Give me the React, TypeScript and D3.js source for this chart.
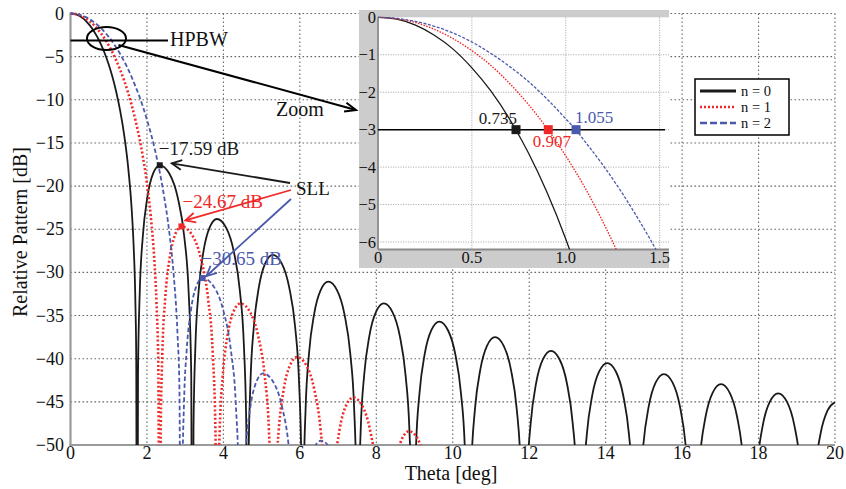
import React from "react";
import * as d3 from "d3";

type Pt = [number, number];

// n = 0 (theta [deg], relative pattern [dB])
const n0Pattern: Pt[] = [
  [0, 0], [0.1, -0.05], [0.2, -0.21], [0.3, -0.48], [0.4, -0.85], [0.5, -1.35], [0.6, -1.96], [0.7, -2.71], [0.735, -3.01], [0.8, -3.61], [0.9, -4.67], [1.0, -5.92], [1.1, -7.4], [1.2, -9.15], [1.3, -11.29], [1.4, -13.94], [1.5, -17.45], [1.6, -22.65], [1.65, -26.74], [1.7, -34.0], [1.72, -40.1], [1.742, -100],
  [1.766, -41.63], [1.813, -32.13], [1.89, -25.93], [2.009, -21.34], [2.157, -18.59], [2.335, -17.59], [2.592, -18.59], [2.806, -21.34], [2.978, -25.93], [3.089, -32.13], [3.158, -41.63], [3.192, -100],
  [3.218, -47.85], [3.269, -38.35], [3.352, -32.15], [3.479, -27.56], [3.639, -24.81], [3.83, -23.81], [4.07, -24.81], [4.271, -27.56], [4.431, -32.15], [4.535, -38.35], [4.599, -47.85], [4.631, -100],
  [4.657, -52.0], [4.71, -42.5], [4.796, -36.3], [4.928, -31.71], [5.093, -28.96], [5.291, -27.96], [5.525, -28.96], [5.72, -31.71], [5.876, -36.3], [5.977, -42.5], [6.04, -52.0], [6.071, -100],
  [6.098, -55.12], [6.152, -45.62], [6.239, -39.42], [6.374, -34.83], [6.542, -32.08], [6.744, -31.08], [6.974, -32.08], [7.166, -34.83], [7.319, -39.42], [7.419, -45.62], [7.48, -55.12], [7.511, -100],
  [7.538, -57.64], [7.593, -48.14], [7.682, -41.94], [7.819, -37.35], [7.99, -34.6], [8.195, -33.6], [8.423, -34.6], [8.614, -37.35], [8.766, -41.94], [8.865, -48.14], [8.926, -57.64], [8.956, -100],
  [8.984, -59.74], [9.039, -50.24], [9.129, -44.04], [9.267, -39.45], [9.44, -36.7], [9.648, -35.7], [9.875, -36.7], [10.065, -39.45], [10.216, -44.04], [10.315, -50.24], [10.376, -59.74], [10.406, -100],
  [10.434, -61.55], [10.49, -52.05], [10.581, -45.85], [10.721, -41.26], [10.896, -38.51], [11.106, -37.51], [11.333, -38.51], [11.522, -41.26], [11.674, -45.85], [11.772, -52.05], [11.833, -61.55], [11.863, -100],
  [11.891, -63.13], [11.948, -53.63], [12.04, -47.43], [12.181, -42.84], [12.357, -40.09], [12.569, -39.09], [12.796, -40.09], [12.986, -42.84], [13.137, -47.43], [13.236, -53.63], [13.297, -63.13], [13.327, -100],
  [13.356, -64.55], [13.413, -55.05], [13.506, -48.85], [13.649, -44.26], [13.828, -41.51], [14.042, -40.51], [14.27, -41.51], [14.46, -44.26], [14.612, -48.85], [14.711, -55.05], [14.772, -64.55], [14.802, -100],
  [14.831, -65.82], [14.889, -56.32], [14.983, -50.12], [15.127, -45.53], [15.307, -42.78], [15.524, -41.78], [15.752, -42.78], [15.943, -45.53], [16.095, -50.12], [16.194, -56.32], [16.255, -65.82], [16.285, -100],
  [16.314, -66.99], [16.373, -57.49], [16.468, -51.29], [16.615, -46.7], [16.798, -43.95], [17.018, -42.95], [17.246, -43.95], [17.437, -46.7], [17.589, -51.29], [17.688, -57.49], [17.749, -66.99], [17.779, -100],
  [17.808, -68.05], [17.867, -58.55], [17.963, -52.35], [18.109, -47.76], [18.293, -45.01], [18.513, -44.01], [18.745, -45.01], [18.938, -47.76], [19.093, -52.35], [19.193, -58.55], [19.255, -68.05], [19.286, -100],
  [19.316, -69.04], [19.375, -59.54], [19.471, -53.34], [19.619, -48.75], [19.805, -46.0], [20.0, -45.05],
];

// n = 1
const n1Pattern: Pt[] = [
  [0, 0], [0.1, -0.04], [0.2, -0.14], [0.3, -0.32], [0.4, -0.57], [0.5, -0.89], [0.6, -1.28], [0.7, -1.76], [0.8, -2.32], [0.907, -3.01], [1.0, -3.7], [1.1, -4.53], [1.2, -5.48], [1.3, -6.54], [1.4, -7.73], [1.5, -9.08], [1.6, -10.61], [1.7, -12.37], [1.8, -14.37], [1.9, -16.76], [2.0, -19.69], [2.1, -23.49], [2.2, -29.06], [2.25, -33.51], [2.3, -41.6], [2.336, -100],
  [2.359, -48.71], [2.404, -39.21], [2.478, -33.01], [2.591, -28.42], [2.733, -25.67], [2.9025, -24.67], [3.181, -25.67], [3.413, -28.42], [3.598, -33.01], [3.719, -39.21], [3.793, -48.71], [3.83, -100],
  [3.855, -57.64], [3.904, -48.14], [3.983, -41.94], [4.106, -37.35], [4.259, -34.6], [4.443, -33.6], [4.697, -34.6], [4.909, -37.35], [5.079, -41.94], [5.189, -48.14], [5.257, -57.64], [5.291, -100],
  [5.317, -63.84], [5.368, -54.34], [5.451, -48.14], [5.578, -43.55], [5.738, -40.8], [5.929, -39.8], [6.173, -40.8], [6.377, -43.55], [6.54, -48.14], [6.646, -54.34], [6.711, -63.84], [6.744, -100],
  [6.77, -68.54], [6.822, -59.04], [6.908, -52.84], [7.038, -48.25], [7.202, -45.5], [7.398, -44.5], [7.637, -45.5], [7.836, -48.25], [7.996, -52.84], [8.099, -59.04], [8.163, -68.54], [8.195, -100],
  [8.222, -72.44], [8.275, -62.94], [8.362, -56.74], [8.495, -52.15], [8.661, -49.4], [8.861, -48.4], [9.097, -49.4], [9.294, -52.15], [9.451, -56.74], [9.554, -62.94], [9.617, -72.44], [9.648, -100],
];

// n = 2
const n2Pattern: Pt[] = [
  [0, 0], [0.1, -0.03], [0.2, -0.11], [0.3, -0.24], [0.4, -0.42], [0.5, -0.66], [0.6, -0.96], [0.7, -1.31], [0.8, -1.71], [0.9, -2.18], [1.0, -2.71], [1.055, -3.01], [1.1, -3.3], [1.2, -3.96], [1.3, -4.69], [1.4, -5.5], [1.5, -6.38], [1.6, -7.36], [1.7, -8.45], [1.8, -9.58], [1.9, -10.88], [2.0, -12.3], [2.2, -15.62], [2.4, -19.94], [2.6, -25.93], [2.7, -30.3], [2.8, -37.19], [2.85, -43.5], [2.9025, -100],
  [2.925, -54.69], [2.969, -45.19], [3.04, -38.99], [3.15, -34.4], [3.288, -31.65], [3.4527, -30.65], [3.75, -31.65], [3.997, -34.4], [4.195, -38.99], [4.324, -45.19], [4.403, -54.69], [4.443, -100],
  [4.467, -65.74], [4.514, -56.24], [4.592, -50.04], [4.711, -45.45], [4.86, -42.7], [5.038, -41.7], [5.305, -42.7], [5.528, -45.45], [5.706, -50.04], [5.822, -56.24], [5.893, -65.74], [5.929, -100],
  [5.954, -73.54], [6.004, -64.04], [6.084, -57.84], [6.208, -53.25], [6.364, -50.5], [6.55, -49.5], [6.804, -50.5], [7.016, -53.25], [7.186, -57.84], [7.296, -64.04], [7.364, -73.54], [7.398, -100],
];

const sllTheta = [2.335, 2.9025, 3.4527];
const sllDb = [-17.59, -24.67, -30.65];
const sllLabels = ["−17.59 dB", "−24.67 dB", "−30.65 dB"];
const hpbwTheta = [0.735, 0.907, 1.055];
const hpbwLabels = ["0.735", "0.907", "1.055"];
const legendLabels = ["n = 0", "n = 1", "n = 2"];

const thetaTicks = [0, 2, 4, 6, 8, 10, 12, 14, 16, 18, 20];
const dbTicks = [0, -5, -10, -15, -20, -25, -30, -35, -40, -45, -50];
const insetThetaTicks = [0, 0.5, 1.0, 1.5];
const insetThetaLabels = ["0", "0.5", "1.0", "1.5"];
const insetDbTicks = [0, -1, -2, -3, -4, -5, -6];

const BLACK = "#1a1a1a";
const RED = "#f02828";
const BLUE = "#4b59ad";
const colors = [BLACK, RED, BLUE];

const FONT = '"Liberation Serif", "Times New Roman", Times, serif';

const fmt = (v: number) => (v < 0 ? "−" : "") + Math.abs(v);

function arrowHead(x1: number, y1: number, x2: number, y2: number, len = 11, deg = 24) {
  const a = Math.atan2(y2 - y1, x2 - x1);
  const r = (deg * Math.PI) / 180;
  const p1 = [x2 - len * Math.cos(a - r), y2 - len * Math.sin(a - r)];
  const p2 = [x2 - len * Math.cos(a + r), y2 - len * Math.sin(a + r)];
  return `M${p1[0]},${p1[1]}L${x2},${y2}L${p2[0]},${p2[1]}`;
}

export default function App() {
  const x = d3.scaleLinear().domain([0, 20]).range([70.5, 835]);
  const y = d3.scaleLinear().domain([-50, 0]).range([445, 13.5]);
  const xi = d3.scaleLinear().domain([0, 1.55]).range([378, 669]);
  const yi = d3.scaleLinear().domain([-6.2, 0]).range([249.5, 17.3]);

  const lineMain = d3.line<Pt>().x((d) => x(d[0])).y((d) => y(d[1])).curve(d3.curveMonotoneX);
  const lineIn = d3.line<Pt>().x((d) => xi(d[0])).y((d) => yi(d[1])).curve(d3.curveMonotoneX);

  const series = [n0Pattern, n1Pattern, n2Pattern];
  const mainStyles = [
    { w: 1.8, dash: undefined as string | undefined },
    { w: 2.6, dash: "2,2.2" },
    { w: 1.8, dash: "4.5,2.5" },
  ];
  const inStyles = [
    { w: 1.3, dash: undefined as string | undefined },
    { w: 1.4, dash: "1.5,1.4" },
    { w: 1.3, dash: "3,1.6" },
  ];

  const gridStroke = "#666";
  const gridDash = "1.6,2.4";

  const sllX = sllTheta.map((t) => x(t));
  const sllY = sllDb.map((v) => y(v));
  const sllTail = [
    [290, 183],
    [291, 190],
    [291, 199],
  ];
  const sllTip = [
    [sllX[0] + 12, sllY[0] - 2],
    [sllX[1] + 4, sllY[1] - 6],
    [sllX[2] + 4, sllY[2] - 2],
  ];
  const sllTextPos = [
    [sllX[0] - 1, sllY[0] - 10],
    [sllX[1] + 1, sllY[1] - 18],
    [sllX[2] - 1, sllY[2] - 13],
  ];

  const zoomFrom = [118.5, 45];
  const zoomTo = [356, 110];

  const legTop = 79;
  const legRow = 16;

  return (
    <svg
      width={846}
      height={489}
      style={{ position: "absolute", left: 0, top: 0, background: "#fff", fontFamily: FONT }}
    >
      <defs>
        <clipPath id="mainClip">
          <rect x={x(0)} y={y(0) - 2} width={x(20) - x(0)} height={y(-50) - y(0) + 2} />
        </clipPath>
        <clipPath id="inClip">
          <rect x={xi(0)} y={yi(0) - 1} width={xi(1.55) - xi(0)} height={yi(-6.2) - yi(0) + 1} />
        </clipPath>
      </defs>
      <rect x={0} y={0} width={846} height={489} fill="#fff" />

      <g style={{ fontFamily: FONT }}>
        {/* main grid */}
        {thetaTicks.filter((t) => t > 0).map((t) => (
          <line key={"gx" + t} x1={x(t)} x2={x(t)} y1={y(0)} y2={y(-50)} stroke={gridStroke} strokeWidth={1.1} strokeDasharray={gridDash} />
        ))}
        {dbTicks.filter((v) => v > -50).map((v) => (
          <line key={"gy" + v} x1={x(0)} x2={x(20)} y1={y(v)} y2={y(v)} stroke={gridStroke} strokeWidth={1.1} strokeDasharray={gridDash} />
        ))}

        {/* axes */}
        <line x1={x(0)} x2={x(0)} y1={y(0) - 1} y2={y(-50) + 1} stroke="#9a9a9a" strokeWidth={2.2} />
        <line x1={x(0) - 1} x2={x(20)} y1={y(-50)} y2={y(-50)} stroke="#9a9a9a" strokeWidth={2.2} />

        {/* tick labels */}
        {thetaTicks.map((t) => (
          <text key={"tx" + t} x={x(t)} y={459} textAnchor="middle" fontSize={18} fill="#111">
            {t}
          </text>
        ))}
        {dbTicks.map((v) => (
          <text key={"ty" + v} x={64} y={y(v) + 6} textAnchor="end" fontSize={18} fill="#111">
            {fmt(v)}
          </text>
        ))}
        <text x={451} y={480} textAnchor="middle" fontSize={20} fill="#111">
          Theta [deg]
        </text>
        <text transform="translate(27,232) rotate(-90)" textAnchor="middle" fontSize={20} fill="#111">
          Relative Pattern [dB]
        </text>

        {/* main curves */}
        <g clipPath="url(#mainClip)">
          {series.map((s, i) => (
            <path
              key={"m" + i}
              d={lineMain(s) || ""}
              fill="none"
              stroke={colors[i]}
              strokeWidth={mainStyles[i].w}
              strokeDasharray={mainStyles[i].dash}
            />
          ))}
        </g>

        {/* SLL markers and labels */}
        {sllTheta.map((t, i) => (
          <rect key={"sm" + i} x={sllX[i] - 3} y={sllY[i] - 3} width={6} height={6} fill={colors[i]} />
        ))}
        {sllLabels.map((s, i) => (
          <text key={"sl" + i} x={sllTextPos[i][0]} y={sllTextPos[i][1]} fontSize={19} fill={colors[i]}>
            {s}
          </text>
        ))}
        {sllTail.map((p, i) => (
          <g key={"sa" + i} stroke={colors[i]} strokeWidth={1.8} fill="none">
            <line x1={p[0]} y1={p[1]} x2={sllTip[i][0]} y2={sllTip[i][1]} />
            <path d={arrowHead(p[0], p[1], sllTip[i][0], sllTip[i][1], 11, 26)} />
          </g>
        ))}
        <text x={296} y={195} fontSize={19} fill="#111">
          SLL
        </text>

        {/* HPBW annotation */}
        <line x1={x(0)} x2={168} y1={y(-3) + 1} y2={y(-3) + 1} stroke="#000" strokeWidth={2} />
        <ellipse cx={106.5} cy={38.5} rx={19.5} ry={11.5} fill="none" stroke="#000" strokeWidth={2} />
        <text x={170} y={46} fontSize={20} fill="#111">
          HPBW
        </text>
        <line x1={zoomFrom[0]} y1={zoomFrom[1]} x2={zoomTo[0]} y2={zoomTo[1]} stroke="#000" strokeWidth={2} />
        <path d={arrowHead(zoomFrom[0], zoomFrom[1], zoomTo[0], zoomTo[1], 12, 22)} stroke="#000" strokeWidth={2} fill="none" />
        <text x={276} y={116} fontSize={20} fill="#111">
          Zoom
        </text>

        {/* inset */}
        <rect x={359} y={10} width={669 - 359} height={268 - 10} fill="#cccccc" />
        <rect x={xi(0)} y={yi(0)} width={xi(1.55) - xi(0)} height={yi(-6.2) - yi(0)} fill="#fff" />
        {insetThetaTicks.filter((t) => t > 0).map((t) => (
          <line key={"igx" + t} x1={xi(t)} x2={xi(t)} y1={yi(0)} y2={yi(-6.2)} stroke="#b0b0b0" strokeWidth={1} strokeDasharray="1.2,1.3" />
        ))}
        {insetDbTicks.filter((v) => v < 0).map((v) => (
          <line key={"igy" + v} x1={xi(0)} x2={xi(1.55)} y1={yi(v)} y2={yi(v)} stroke="#b0b0b0" strokeWidth={1} strokeDasharray="1.2,1.3" />
        ))}
        <line x1={xi(0)} x2={xi(0)} y1={yi(0)} y2={yi(-6.2)} stroke="#8a8a8a" strokeWidth={1.8} />
        <line x1={xi(0)} x2={xi(1.55)} y1={yi(-6.2)} y2={yi(-6.2)} stroke="#8a8a8a" strokeWidth={1.8} />
        {insetThetaTicks.map((t, i) => (
          <text key={"itx" + t} x={xi(t)} y={263} textAnchor="middle" fontSize={16.5} fill="#111">
            {insetThetaLabels[i]}
          </text>
        ))}
        {insetDbTicks.map((v) => (
          <text key={"ity" + v} x={376} y={yi(v) + 5.5} textAnchor="end" fontSize={16.5} fill="#111">
            {fmt(v)}
          </text>
        ))}
        <line x1={xi(0)} x2={665} y1={yi(-3)} y2={yi(-3)} stroke="#000" strokeWidth={1.5} />
        <g clipPath="url(#inClip)">
          {series.map((s, i) => (
            <path
              key={"i" + i}
              d={lineIn(s.filter((d) => d[0] <= 1.8)) || ""}
              fill="none"
              stroke={colors[i]}
              strokeWidth={inStyles[i].w}
              strokeDasharray={inStyles[i].dash}
            />
          ))}
        </g>
        {hpbwTheta.map((t, i) => (
          <rect key={"hm" + i} x={xi(t) - 4.5} y={yi(-3) - 4.5} width={9} height={9} fill={colors[i]} />
        ))}
        <text x={xi(hpbwTheta[0]) + 1} y={yi(-3) - 6} textAnchor="end" fontSize={17} fill={BLACK}>
          {hpbwLabels[0]}
        </text>
        <text x={xi(hpbwTheta[1]) + 3.5} y={yi(-3) + 17} textAnchor="middle" fontSize={17} fill={RED}>
          {hpbwLabels[1]}
        </text>
        <text x={xi(hpbwTheta[2]) - 1} y={yi(-3) - 6.5} textAnchor="start" fontSize={17} fill={BLUE}>
          {hpbwLabels[2]}
        </text>

        {/* legend */}
        <rect x={695} y={legTop} width={94} height={legRow * 3 + 8} fill="#fff" stroke="#000" strokeWidth={1.5} />
        {legendLabels.map((s, i) => (
          <g key={"lg" + i}>
            <line
              x1={700}
              x2={736}
              y1={legTop + 12 + i * legRow}
              y2={legTop + 12 + i * legRow}
              stroke={colors[i]}
              strokeWidth={i === 0 ? 3 : 2.6}
              strokeDasharray={i === 0 ? undefined : i === 1 ? "2,2" : "7,3"}
            />
            <text x={741} y={legTop + 17 + i * legRow} fontSize={14.5} fill="#111">
              {s}
            </text>
          </g>
        ))}
      </g>
    </svg>
  );
}
